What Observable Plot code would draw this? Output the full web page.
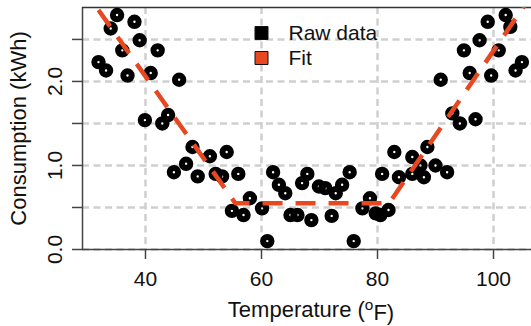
<!DOCTYPE html>
<html>
<head>
<meta charset="utf-8">
<script src="https://cdn.jsdelivr.net/npm/d3@7"></script>
<script src="https://cdn.jsdelivr.net/npm/@observablehq/plot@0.6"></script>
<style>
  html, body { margin: 0; padding: 0; background: #fff; }
  #chart svg { display: block; }
</style>
</head>
<body>
<div id="chart"></div>
<script>
// Raw data: temperature (°F) and consumption (kWh)
const temps = [35.1, 34.0, 38.1, 39.0, 36.0, 42.1, 31.9, 33.2, 36.9, 40.9, 45.8, 39.9, 43.9, 42.9,
  48.1, 47.0, 44.9, 49.0, 51.1, 54.0, 52.1, 53.2, 56.0, 58.0, 54.9, 56.9, 60.1, 61.0,
  62.0, 63.0, 64.1, 65.0, 66.2, 67.0, 67.9, 68.6, 69.9, 71.0, 72.8, 73.9, 75.2, 72.1, 75.9,
  77.4, 78.7, 79.7, 80.5, 81.9, 80.8, 82.9, 83.7, 86.0, 87.4, 86.0, 88.6, 88.0, 90.0, 92.0,
  102.1, 102.9, 99.0, 97.6, 94.9, 100.9, 104.9, 103.8, 95.9, 99.6, 90.9, 92.9, 94.2, 96.9];
const kwh = [2.79, 2.63, 2.71, 2.49, 2.37, 2.37, 2.23, 2.13, 2.07, 2.10, 2.02, 1.54, 1.60, 1.50,
  1.22, 1.02, 0.92, 0.87, 1.11, 1.16, 0.90, 0.87, 0.90, 0.61, 0.46, 0.41, 0.49, 0.10,
  0.92, 0.77, 0.67, 0.41, 0.41, 0.79, 0.90, 0.35, 0.75, 0.73, 0.67, 0.77, 0.92, 0.40, 0.10,
  0.49, 0.61, 0.43, 0.41, 0.47, 0.90, 1.16, 0.86, 1.10, 1.00, 0.90, 1.22, 0.86, 1.00, 0.92,
  2.79, 2.65, 2.71, 2.49, 2.37, 2.37, 2.23, 2.13, 2.10, 2.07, 2.02, 1.62, 1.50, 1.55];

// Piecewise-linear fit
const fitTemps = [31.9, 55.5, 82.0, 105.5];
const fitKwh = [2.85, 0.55, 0.55, 2.92];

// Axes
const xDomain = [29.14, 106.55];
const yDomain = [0, 2.88];
const xTicks = [40, 60, 80, 100];
const yTicks = [0, 0.5, 1.0, 1.5, 2.0, 2.5];
const yTickLabels = [0, 1, 2];

// Legend
const legendLabels = ["Raw data", "Fit"];
const legendColors = ["#000000", "#E8481F"];

const raw = temps.map((t, i) => ({t, v: kwh[i]}));
const fit = fitTemps.map((t, i) => ({t, v: fitKwh[i]}));

const FONT = "'Liberation Sans', Arial, Helvetica, sans-serif";
const axisColor = "#444";
const gridColor = "#cfcfcf";

const legendMarks = [];
legendLabels.forEach((lab, i) => {
  legendMarks.push(Plot.dot([lab], {
    frameAnchor: "top-left", dx: 179, dy: 25.5 + i * 25,
    symbol: "square", r: 13 / Math.sqrt(Math.PI),
    fill: legendColors[i], stroke: "#111", strokeWidth: 1
  }));
  legendMarks.push(Plot.text([lab], {
    frameAnchor: "top-left", dx: 206, dy: 26 + i * 25,
    text: d => d, textAnchor: "start", lineAnchor: "middle",
    fontSize: 21, fill: "#111"
  }));
});

const chart = Plot.plot({
  width: 531,
  height: 326,
  marginLeft: 82,
  marginRight: 0,
  marginTop: 7,
  marginBottom: 77,
  style: {fontFamily: FONT, background: "#fff", overflow: "visible"},
  x: {domain: xDomain},
  y: {domain: yDomain},
  marks: [
    Plot.gridX(xTicks, {stroke: gridColor, strokeOpacity: 1, strokeWidth: 2.5, strokeDasharray: "7,4.5"}),
    Plot.gridY(yTicks, {stroke: gridColor, strokeOpacity: 1, strokeWidth: 2.5, strokeDasharray: "7,4.5"}),
    Plot.axisX({ticks: xTicks, tickSize: 10, tickFormat: () => "", label: null, stroke: axisColor, strokeWidth: 1.5}),
    Plot.axisY({ticks: yTicks, tickSize: 10, tickFormat: () => "", label: null, stroke: axisColor, strokeWidth: 1.5}),
    Plot.text(xTicks, {x: d => d, frameAnchor: "bottom", dy: 30, text: d => String(d),
      fontSize: 21, fill: "#111", lineAnchor: "middle"}),
    Plot.text(yTickLabels, {y: d => d, frameAnchor: "left", dx: -27, text: d => d3.format(".1f")(d),
      fontSize: 21, fill: "#111", rotate: -90, lineAnchor: "middle", textAnchor: "middle"}),
    Plot.text(["Temperature (oF)"], {frameAnchor: "bottom", dx: 4, dy: 60, text: d => d,
      fontSize: 22, fill: "#111", lineAnchor: "middle"}),
    Plot.text(["Consumption (kWh)"], {frameAnchor: "left", dx: -64, text: d => d,
      fontSize: 22, fill: "#111", rotate: -90, lineAnchor: "middle", textAnchor: "middle"}),
    Plot.ruleX([xDomain[0]], {stroke: axisColor, strokeWidth: 1.5}),
    Plot.ruleY([yDomain[1]], {stroke: "#333", strokeWidth: 1.5}),
    Plot.ruleY([yDomain[0]], {stroke: axisColor, strokeWidth: 1.5}),
    Plot.dot(raw, {x: "t", y: "v", r: 4.2, fill: "none", stroke: "#000", strokeWidth: 6}),
    Plot.line(fit, {x: "t", y: "v", stroke: "#E8481F", strokeWidth: 4.5,
      strokeDasharray: "20,13", strokeLinecap: "butt", clip: true}),
    ...legendMarks
  ]
});

document.getElementById("chart").appendChild(chart);

// Superscript "o" in the x-axis title
d3.select(chart).selectAll("text").each(function() {
  const el = d3.select(this);
  if (el.text() === "Temperature (oF)") {
    el.text("");
    el.append("tspan").text("Temperature (");
    el.append("tspan").attr("dy", "-0.45em").attr("font-size", "0.7em").text("o");
    el.append("tspan").attr("dy", "0.45em").text("F)");
  }
});
</script>
</body>
</html>
